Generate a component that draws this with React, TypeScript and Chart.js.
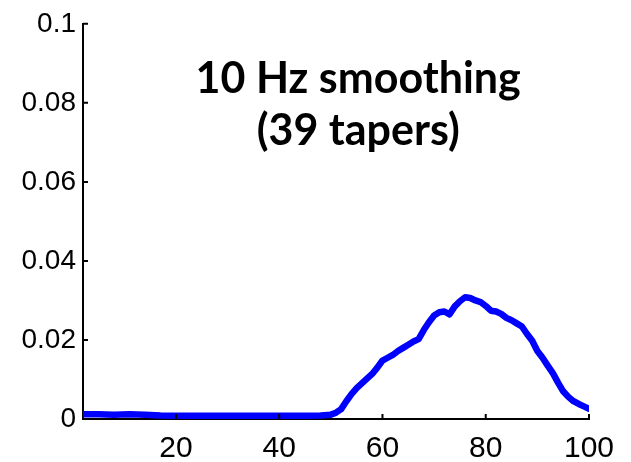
import React, { useEffect, useRef } from "react";
import { Chart, registerables } from "chart.js";

Chart.register(...registerables);

const freqs = [
  2, 5, 8, 11, 14, 17, 20, 25, 30, 35, 40, 45, 48, 50, 51, 52, 53, 54, 55, 56,
  57, 58, 59, 60, 61, 62, 63, 64, 65, 66, 67, 68, 69, 70, 71, 72, 73, 74, 75,
  76, 77, 78, 79, 80, 81, 82, 83, 84, 85, 86, 87, 88, 89, 90, 91, 92, 93, 94,
  95, 96, 97, 98, 99, 100,
];
const power = [
  0.0012, 0.0012, 0.0011, 0.0012, 0.0011, 0.0009, 0.0008, 0.0008, 0.0008,
  0.0008, 0.0008, 0.0008, 0.0009, 0.0011, 0.0016, 0.0025, 0.0045, 0.0063,
  0.0078, 0.009, 0.0102, 0.0114, 0.013, 0.0148, 0.0155, 0.0162, 0.0172,
  0.018, 0.0188, 0.0196, 0.0202, 0.0225, 0.0245, 0.0262, 0.027, 0.0272,
  0.0265, 0.0285, 0.0298, 0.0308, 0.0306, 0.03, 0.0296, 0.0286, 0.0274,
  0.0272, 0.0266, 0.0256, 0.025, 0.0242, 0.0234, 0.0215, 0.0198, 0.0172,
  0.0155, 0.0135, 0.0116, 0.0092, 0.007, 0.0056, 0.0045, 0.0038, 0.0032,
  0.0026,
];
const xTicks = [20, 40, 60, 80, 100];
const yTicks = [0, 0.02, 0.04, 0.06, 0.08, 0.1];
const yTickLabels = ["0", "0.02", "0.04", "0.06", "0.08", "0.1"];
const titleLines = ["10 Hz smoothing", "(39 tapers)"];

export default function App() {
  const ref = useRef<HTMLCanvasElement | null>(null);

  useEffect(() => {
    if (!ref.current) return;

    const innerTicks = {
      id: "innerTicks",
      afterDraw(chart: any) {
        const { ctx, chartArea, scales } = chart;
        ctx.save();
        ctx.strokeStyle = "#000";
        ctx.lineWidth = 2;
        ctx.beginPath();
        xTicks.forEach((v) => {
          const px = scales.x.getPixelForValue(v);
          ctx.moveTo(px, chartArea.bottom);
          ctx.lineTo(px, chartArea.bottom - 5);
        });
        yTicks.forEach((v) => {
          const py = scales.y.getPixelForValue(v);
          ctx.moveTo(chartArea.left, py);
          ctx.lineTo(chartArea.left + 5, py);
        });
        ctx.stroke();
        ctx.restore();
      },
    };

    const titlePlugin = {
      id: "inlineTitle",
      afterDraw(chart: any) {
        const { ctx, scales } = chart;
        ctx.save();
        ctx.fillStyle = "#000";
        ctx.font = "bold 43px Lato";
        ctx.textAlign = "center";
        ctx.textBaseline = "alphabetic";
        const cx = scales.x.getPixelForValue(55.3);
        ctx.fillText(titleLines[0], cx, scales.y.getPixelForValue(0.0825));
        ctx.fillText(titleLines[1], cx, scales.y.getPixelForValue(0.0693));
        ctx.restore();
      },
    };

    const chart = new Chart(ref.current, {
      type: "line",
      data: {
        datasets: [
          {
            data: freqs.map((f, i) => ({ x: f, y: power[i] })),
            borderColor: "#0000ff",
            borderWidth: 6.5,
            pointRadius: 0,
            tension: 0,
            borderJoinStyle: "round",
            borderCapStyle: "round",
            fill: false,
          },
        ],
      },
      options: {
        responsive: false,
        animation: false,
        devicePixelRatio: 1,
        layout: { padding: { left: 0, top: 20, right: 42, bottom: 0 } },
        plugins: {
          legend: { display: false },
          tooltip: { enabled: false },
          title: { display: false },
        },
        scales: {
          x: {
            type: "linear",
            min: 2,
            max: 100,
            afterBuildTicks: (scale: any) => {
              scale.ticks = xTicks.map((v) => ({ value: v }));
            },
            afterFit: (scale: any) => {
              scale.height = 43;
            },
            grid: { drawOnChartArea: false, drawTicks: false },
            border: { display: true, color: "#000", width: 2 },
            ticks: {
              color: "#000",
              padding: 12,
              maxRotation: 0,
              font: { family: "Liberation Sans", size: 30 },
              callback: (v: any) => String(v),
            },
          },
          y: {
            type: "linear",
            min: 0,
            max: 0.1,
            afterBuildTicks: (scale: any) => {
              scale.ticks = yTicks.map((v) => ({ value: v }));
            },
            afterFit: (scale: any) => {
              scale.width = 83;
            },
            grid: { drawOnChartArea: false, drawTicks: false },
            border: { display: true, color: "#000", width: 2 },
            ticks: {
              color: "#000",
              padding: 7,
              font: { family: "Liberation Sans", size: 28 },
              callback: (_v: any, i: number) => yTickLabels[i],
            },
          },
        },
      },
      plugins: [innerTicks, titlePlugin],
    } as any);

    return () => chart.destroy();
  }, []);

  return (
    <div style={{ position: "fixed", left: 0, top: 0, width: 631, height: 462, background: "#fff" }}>
      <canvas ref={ref} width={631} height={462} style={{ display: "block" }} />
    </div>
  );
}
